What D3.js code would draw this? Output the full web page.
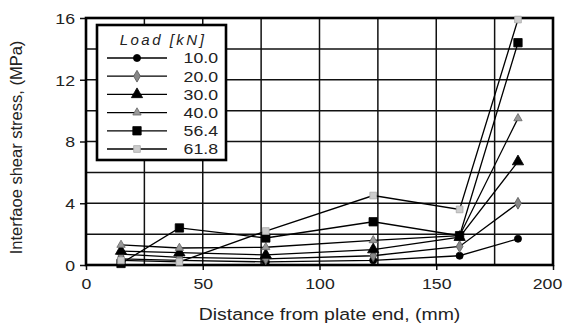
<!DOCTYPE html>
<html>
<head>
<meta charset="utf-8">
<script src="https://cdn.jsdelivr.net/npm/d3@7"></script>
<style>
  body { margin: 0; background: #fff; }
  text { font-family: "Liberation Sans", Arial, sans-serif; fill: #222; }
  .wide { transform-box: fill-box; transform-origin: center; transform: scaleX(1.18); }
  .wide-r { transform-box: fill-box; transform-origin: right; transform: scaleX(1.18); }
</style>
</head>
<body>
<div id="chart"></div>
<script>
// distances from plate end (mm)
const distances = [15, 40, 77, 123, 160, 185];
const loads = ["10.0", "20.0", "30.0", "40.0", "56.4", "61.8"];
// interface shear stress (MPa) per load
const load10 = [0.4, 0.3, 0.2, 0.3, 0.6, 1.7];
const load20 = [0.7, 0.5, 0.4, 0.6, 1.2, 4.0];
const load30 = [0.9, 0.8, 0.65, 1.0, 1.8, 6.7];
const load40 = [1.3, 1.1, 1.15, 1.6, 1.9, 9.5];
const load56 = [0.1, 2.4, 1.75, 2.8, 1.9, 14.4];
const load62 = [0.3, 0.2, 2.2, 4.5, 3.6, 15.9];
const xTicks = [0, 50, 100, 150, 200];
const yTicks = [0, 4, 8, 12, 16];

const seriesValues = [load10, load20, load30, load40, load56, load62];
const series = loads.map((name, i) => ({
  name: name,
  points: distances.map((d, j) => ({ x: d, y: seriesValues[i][j] }))
}));

const width = 563, height = 327;
const margin = { top: 18, right: 10, bottom: 62, left: 86 };

const svg = d3.select("#chart").append("svg")
  .attr("width", width)
  .attr("height", height);

let x = d3.scaleLinear().domain([0, 200]).range([margin.left, width - margin.right]);
let y = d3.scaleLinear().domain([0, 16]).range([height - margin.bottom, margin.top]);

// grid
const grid = svg.append("g").attr("stroke", "#111").attr("stroke-width", 1.5);
grid.selectAll(".vg").data(d3.range(25, 200, 25)).enter().append("line")
  .attr("x1", d => x(d)).attr("x2", d => x(d))
  .attr("y1", y(0)).attr("y2", y(16));
grid.selectAll(".hg").data(d3.range(2, 16, 2)).enter().append("line")
  .attr("x1", x(0)).attr("x2", x(200))
  .attr("y1", d => y(d)).attr("y2", d => y(d));

// axes
const xAxis = d3.axisBottom(x).tickValues(xTicks).tickSize(5).tickPadding(8);
const yAxis = d3.axisLeft(y).tickValues(yTicks).tickSize(6).tickPadding(5);

const gx = svg.append("g")
  .attr("transform", `translate(0, ${y(0)})`)
  .call(xAxis);
const gy = svg.append("g")
  .attr("transform", `translate(${x(0)}, 0)`)
  .call(yAxis);
[gx, gy].forEach(g => {
  g.select(".domain").remove();
  g.selectAll(".tick line").attr("stroke", "#111").attr("stroke-width", 1.5);
  g.selectAll("text").style("font-size", "15px").attr("fill", "#222");
});
gx.selectAll("text").attr("class", "wide");
gy.selectAll("text").attr("class", "wide-r").attr("dy", "0.36em");
// last label sits a little inside the edge
gx.selectAll(".tick").filter(d => d === 200).select("text").attr("x", -6);

// frame
svg.append("rect")
  .attr("x", x(0)).attr("y", y(16))
  .attr("width", x(200) - x(0)).attr("height", y(0) - y(16))
  .attr("fill", "none").attr("stroke", "#000").attr("stroke-width", 2.6);

// axis titles
svg.append("text")
  .attr("x", (x(0) + x(200)) / 2 + 10).attr("y", 320)
  .attr("text-anchor", "middle")
  .attr("class", "wide")
  .style("font-size", "16.5px")
  .text("Distance from plate end, (mm)");
svg.append("text")
  .attr("transform", `translate(22, ${(y(0) + y(16)) / 2 + 6}) rotate(-90)`)
  .attr("text-anchor", "middle")
  .style("font-size", "16.5px")
  .text("Interfaoe shear stress, (MPa)");

// markers
const markerStyle = [
  { type: d3.symbolCircle, size: 40, fill: "#000", stroke: "#000" },
  { type: d3.symbolDiamond, size: 40, fill: "#888", stroke: "#555" },
  { type: d3.symbolTriangle, size: 55, fill: "#000", stroke: "#000" },
  { type: d3.symbolTriangle, size: 30, fill: "#999", stroke: "#666" },
  { type: d3.symbolSquare, size: 70, fill: "#000", stroke: "#000" },
  { type: d3.symbolSquare, size: 45, fill: "#ccc", stroke: "#aaa" }
];

const line = d3.line().x(d => x(d.x)).y(d => y(d.y));

const sg = svg.selectAll(".series").data(series).enter().append("g").attr("class", "series");
sg.append("path")
  .attr("d", d => line(d.points))
  .attr("fill", "none")
  .attr("stroke", "#000")
  .attr("stroke-width", 1.3);
sg.each(function(d, i) {
  const m = markerStyle[i];
  d3.select(this).selectAll("path.pt").data(d.points).enter().append("path")
    .attr("class", "pt")
    .attr("transform", p => `translate(${x(p.x)}, ${y(p.y)})`)
    .attr("d", d3.symbol().type(m.type).size(m.size))
    .attr("fill", m.fill)
    .attr("stroke", m.stroke)
    .attr("stroke-width", 0.8);
});

// legend
const lg = svg.append("g").attr("transform", "translate(97, 25)");
lg.append("rect")
  .attr("width", 129).attr("height", 135)
  .attr("fill", "#fff").attr("stroke", "#000").attr("stroke-width", 2.6);
lg.append("text")
  .attr("x", 66).attr("y", 20)
  .attr("text-anchor", "middle")
  .style("font-size", "15px").style("font-style", "italic").style("letter-spacing", "2.5px")
  .text("Load [kN]");
const rows = lg.selectAll(".row").data(series).enter().append("g")
  .attr("transform", (d, i) => `translate(0, ${33 + i * 18.2})`);
rows.append("line")
  .attr("x1", 10).attr("x2", 70)
  .attr("stroke", "#000").attr("stroke-width", 1.3);
rows.append("path")
  .attr("transform", "translate(40, 0)")
  .attr("d", (d, i) => d3.symbol().type(markerStyle[i].type).size(markerStyle[i].size)())
  .attr("fill", (d, i) => markerStyle[i].fill)
  .attr("stroke", (d, i) => markerStyle[i].stroke)
  .attr("stroke-width", 0.8);
rows.append("text")
  .attr("x", 121).attr("dy", "0.36em")
  .attr("text-anchor", "end")
  .attr("class", "wide-r")
  .style("font-size", "15px")
  .text(d => d.name);
</script>
</body>
</html>
